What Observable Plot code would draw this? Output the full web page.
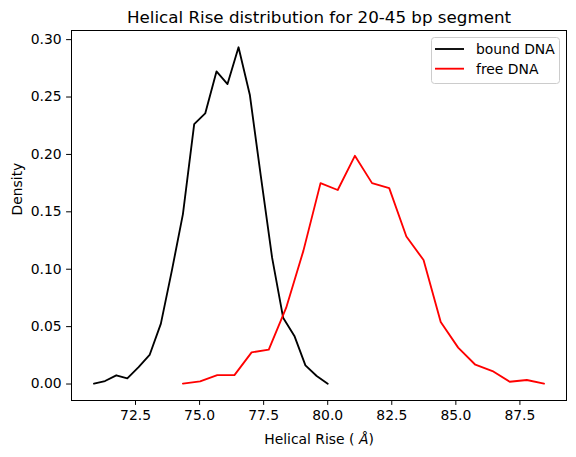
<!DOCTYPE html>
<html>
<head>
<meta charset="utf-8">
<script src="https://cdn.jsdelivr.net/npm/d3@7"></script>
<script src="https://cdn.jsdelivr.net/npm/@observablehq/plot@0.6"></script>
<style>
  html, body { margin: 0; padding: 0; background: #fff; }
  #chart svg { display: block; }
</style>
</head>
<body>
<div id="chart"></div>
<script>
// Helical rise histogram densities (20-45 bp segment)
const boundX = [70.88, 71.31, 71.75, 72.18, 72.62, 73.05, 73.49, 73.92, 74.35, 74.79, 75.22,
                75.66, 76.09, 76.52, 76.96, 77.39, 77.83, 78.26, 78.70, 79.13, 79.57, 80.00];
const boundY = [0.0003, 0.0026, 0.0076, 0.0050, 0.0148, 0.0253, 0.0526, 0.0990, 0.1480, 0.2264, 0.2357,
                0.2723, 0.2613, 0.2933, 0.2520, 0.1810, 0.1101, 0.0578, 0.0419, 0.0163, 0.0070, 0.0003];
const freeX = [74.35, 75.02, 75.69, 76.36, 77.03, 77.70, 78.38, 79.05, 79.72, 80.39, 81.06,
               81.73, 82.40, 83.07, 83.74, 84.41, 85.09, 85.76, 86.43, 87.10, 87.77, 88.44];
const freeY = [0.0003, 0.0023, 0.0078, 0.0078, 0.0276, 0.0300, 0.0665, 0.1160, 0.1750, 0.1690, 0.1988,
               0.1750, 0.1706, 0.1285, 0.1080, 0.0540, 0.0317, 0.0168, 0.0113, 0.0020, 0.0035, 0.0003];

const xTicks = [72.5, 75.0, 77.5, 80.0, 82.5, 85.0, 87.5];
const yTicks = [0.00, 0.05, 0.10, 0.15, 0.20, 0.25, 0.30];

const seriesNames = ["bound DNA", "free DNA"];
const seriesColors = ["#000000", "#ff0000"];

const titleText = "Helical Rise distribution for 20-45 bp segment";
const xLabel = "Helical Rise ( Å)";
const yLabel = "Density";

const bound = boundX.map((x, i) => ({x, y: boundY[i]}));
const free = freeX.map((x, i) => ({x, y: freeY[i]}));

// 5% padding around the data extent on both axes
function padded(values) {
  const [lo, hi] = d3.extent(values);
  const m = (hi - lo) * 0.05;
  return [lo - m, hi + m];
}
const xDomain = padded([...boundX, ...freeX]);
const yDomain = padded([...boundY, ...freeY]);

const FONT = "DejaVu Sans, Liberation Sans, sans-serif";
const FS = 13.9;

const plot = Plot.plot({
  width: 576,
  height: 457,
  marginLeft: 71,
  marginRight: 10,
  marginTop: 30,
  marginBottom: 57,
  style: {fontFamily: FONT, fontSize: FS + "px", color: "#000", background: "#fff"},
  x: {domain: xDomain, ticks: xTicks, tickFormat: d3.format(".1f"), label: null, tickSize: 4.9, tickPadding: 5},
  y: {domain: yDomain, ticks: yTicks, tickFormat: d3.format(".2f"), label: null, tickSize: 4.9, tickPadding: 5},
  marks: [
    Plot.frame({stroke: "#000", strokeWidth: 1}),
    Plot.line(bound, {x: "x", y: "y", stroke: seriesColors[0], strokeWidth: 1.85}),
    Plot.line(free, {x: "x", y: "y", stroke: seriesColors[1], strokeWidth: 1.85}),
    Plot.text([titleText], {text: d => d, frameAnchor: "top", lineAnchor: "middle", dy: -13.3, fontSize: 16.7, fill: "#000"}),
    Plot.text([xLabel], {text: d => d, frameAnchor: "bottom", lineAnchor: "middle", dy: 39, fontSize: FS, fill: "#000", className: "xlabel"}),
    Plot.text([yLabel], {text: d => d, frameAnchor: "left", lineAnchor: "middle", dx: -54, rotate: -90, fontSize: FS, fill: "#000"})
  ]
});

document.getElementById("chart").appendChild(plot);

const svg = d3.select(plot);

// Italic Ångström symbol in the x-axis label
svg.selectAll("g.xlabel text").each(function() {
  const t = d3.select(this);
  const s = t.text();
  const i = s.indexOf("Å");
  if (i < 0) return;
  t.text(null);
  t.append("tspan").text(s.slice(0, i));
  t.append("tspan").attr("font-style", "italic").text("Å");
  t.append("tspan").text(s.slice(i + 1));
});

// Legend box in the upper-right corner of the axes
const lg = svg.append("g").attr("font-family", FONT).attr("font-size", FS).attr("text-anchor", "start");
lg.append("rect")
  .attr("x", 431.5).attr("y", 37.5).attr("width", 128).attr("height", 46)
  .attr("rx", 3).attr("fill", "#fff").attr("fill-opacity", 0.8)
  .attr("stroke", "#cccccc").attr("stroke-width", 1);
seriesNames.forEach((name, i) => {
  const y = 49 + i * 19.7;
  lg.append("line").attr("x1", 435).attr("x2", 464).attr("y1", y).attr("y2", y)
    .attr("stroke", seriesColors[i]).attr("stroke-width", 1.85);
  lg.append("text").attr("x", 476).attr("y", y).attr("dy", "0.35em")
    .attr("text-anchor", "start").attr("fill", "#000").text(name);
});
</script>
</body>
</html>
